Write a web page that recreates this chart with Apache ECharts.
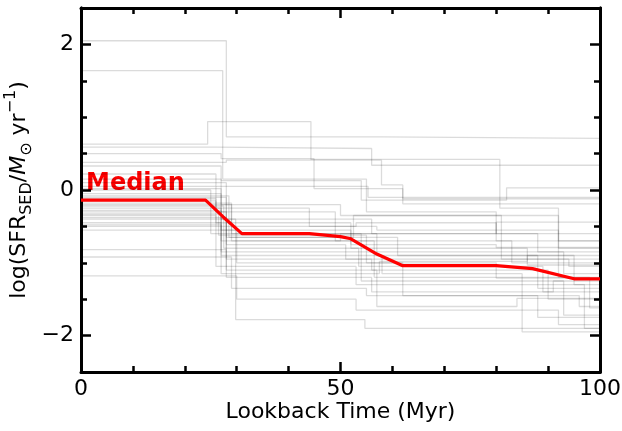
<!DOCTYPE html>
<html><head><meta charset="utf-8">
<script src="https://cdn.jsdelivr.net/npm/echarts@6/dist/echarts.min.js"></script>
<style>html,body{margin:0;padding:0;background:#fff}#c{width:622px;height:431px}</style>
</head><body><div id="c"></div>
<script>
// Median SFH
const medianX = [0, 24, 27.4, 31, 44, 50, 52, 57, 62, 80, 87, 95, 100];
const medianY = [-0.14, -0.14, -0.37, -0.6, -0.6, -0.64, -0.67, -0.88, -1.04, -1.04, -1.08, -1.22, -1.22];

// Individual step SFHs: breakpoints (x) and values
const sfhX = [
  [0, 28, 58, 100],
  [0, 27.3, 55, 80, 100],
  [0, 24.4, 44.3, 80.7, 92, 100],
  [0, 26, 56, 100],
  [0, 27, 44.9, 62, 100],
  [0, 28, 57.9, 62, 100],
  [0, 27, 54, 82, 100],
  [0, 26, 55.3, 100],
  [0, 27, 50, 92, 100],
  [0, 28, 53, 80, 100],
  [0, 26, 52, 86, 100],
  [0, 25, 57, 95, 100],
  [0, 27, 50, 88, 100],
  [0, 28, 56, 90, 100],
  [0, 26, 49, 83, 100],
  [0, 29, 54, 93, 100],
  [0, 27, 55, 80, 100],
  [0, 28, 61, 88, 100],
  [0, 26, 53, 97, 100],
  [0, 29.8, 54.7, 100],
  [0, 27, 58, 85, 100],
  [0, 28, 56, 91, 100],
  [0, 30, 62, 96, 100],
  [0, 28, 57, 84, 100],
  [0, 29, 55, 88, 100],
  [0, 30, 53, 92, 100],
  [0, 27, 52, 80, 100],
  [0, 28, 51, 94, 100],
  [0, 26, 44, 57, 92, 100],
  [0, 27, 56, 80, 100],
  [0, 27.5, 53.5, 89, 100],
  [0, 26.5, 55, 93, 100],
  [0, 28.5, 52.5, 81, 100],
  [0, 27, 57.5, 86, 100],
  [0, 29, 56.5, 98, 100]
];
const sfhY = [
  [2.05, 0.73, 0.71, 0.71],
  [1.64, 0.15, -0.3, -0.6, -0.6],
  [0.63, 0.94, 0.42, -0.25, -0.7, -0.7],
  [0.59, 0.57, 0.34, 0.34],
  [0.5, 0.43, 0.02, -0.19, -0.19],
  [0.38, 0.41, 0.07, -0.12, -0.12],
  [0.33, 0.13, -0.14, 0.03, 0.03],
  [0.22, 0.05, -0.1, -0.1],
  [0.15, -0.2, -0.35, -0.8, -0.8],
  [0.1, -0.5, -0.45, -0.7, -0.7],
  [0.05, -0.45, -0.8, -1.03, -1.03],
  [0.0, -0.6, -0.9, -1.3, -1.3],
  [-0.05, -0.7, -0.6, -0.85, -0.85],
  [-0.1, -0.95, -1.1, -1.5, -1.5],
  [-0.15, -0.3, -0.7, -1.0, -1.0],
  [-0.2, -0.6, -1.25, -1.72, -1.72],
  [-0.25, -0.85, -1.0, -1.21, -1.21],
  [-0.3, -0.65, -0.9, -1.35, -1.35],
  [-0.35, -1.05, -1.3, -1.9, -1.9],
  [-0.4, -1.78, -1.9, -1.9],
  [-0.45, -0.9, -1.15, -1.95, -1.95],
  [-0.5, -1.2, -1.4, -1.25, -1.25],
  [-0.55, -1.0, -1.45, -1.6, -1.6],
  [-0.82, -1.1, -1.6, -1.49, -1.49],
  [-0.92, -1.35, -1.45, -1.75, -1.75],
  [-1.18, -1.5, -1.65, -1.85, -1.85],
  [-0.28, -0.55, -0.75, -0.79, -0.79],
  [-0.38, -0.75, -0.95, -1.05, -1.05],
  [-0.12, -0.25, -0.5, -0.55, -1.2, -1.2],
  [0.02, -0.4, -0.6, -0.44, -0.44],
  [-0.22, -0.8, -1.05, -1.4, -1.4],
  [-0.33, -0.62, -0.85, -1.15, -1.15],
  [-0.08, -0.65, -0.35, -0.95, -0.95],
  [-0.48, -1.15, -0.98, -0.9, -0.9],
  [-0.18, -0.7, -1.2, -1.62, -1.62]
];

const xTicks = [0, 50, 100];
const yMajorTicks = [-2, 0, 2];
const yMinorTicks = [-2.5, -1.5, -1, -0.5, 0.5, 1, 1.5, 2.5];
const medianLabel = 'Median';

const FONT = 'DejaVu Sans';
const FS = 22;
const chart = echarts.init(document.getElementById('c'), null, {renderer: 'canvas'});

const series = sfhX.map((xs, i) => ({
  type: 'line', step: 'end', symbol: 'none', silent: true,
  xAxisIndex: 0, yAxisIndex: 0,
  data: xs.map((x, j) => [x, sfhY[i][j]]),
  lineStyle: {color: '#000', width: 1.3, opacity: 0.14},
  z: 2
}));
series.push({
  type: 'line', symbol: 'none', silent: true,
  xAxisIndex: 0, yAxisIndex: 0,
  data: medianX.map((x, j) => [x, medianY[j]]),
  lineStyle: {color: '#ff0000', width: 3.2},
  z: 5
});

const minus = v => String(v).replace('-', '\u2212');
const lineStyle = {color: '#000', width: 3};
const tickStyle = {color: '#000', width: 2.5};

function yAx(pos, ticks, len, labels, extra) {
  return Object.assign({
    type: 'value', min: -2.5, max: 2.5, position: pos,
    axisLine: {show: true, onZero: false, lineStyle: lineStyle},
    axisTick: {show: true, inside: true, length: len, customValues: ticks, lineStyle: tickStyle},
    axisLabel: labels ? {show: true, customValues: ticks, color: '#000', fontFamily: FONT, fontSize: FS, margin: 7, formatter: v => minus(v)} : {show: false},
    splitLine: {show: false}
  }, extra || {});
}

chart.setOption({
  animation: false,
  backgroundColor: '#fff',
  grid: {left: 81, right: 22, top: 8, bottom: 59, containLabel: false, outerBoundsMode: 'none'},
  xAxis: [0, 1].map(k => ({
    type: 'value', min: 0, max: 100, interval: 50, position: k === 0 ? 'bottom' : 'top',
    axisLine: {show: true, onZero: false, lineStyle: lineStyle},
    axisTick: {show: true, inside: true, length: 10, lineStyle: tickStyle},
    minorTick: {show: true, splitNumber: 5, length: 6, lineStyle: tickStyle},
    splitLine: {show: false},
    axisLabel: k === 0 ? {color: '#000', fontFamily: FONT, fontSize: FS, margin: 6,
      formatter: v => xTicks.includes(v) ? minus(v) : ''} : {show: false},
    name: k === 0 ? 'Lookback Time (Myr)' : '', nameLocation: 'middle', nameGap: 29,
    nameMoveOverlap: false,
    nameTextStyle: {color: '#000', fontFamily: FONT, fontSize: FS}
  })),
  yAxis: [
    yAx('left', yMajorTicks, 10, true, {
      name: '{n|log(SFR}{sub|SED}{n|/}{it|M}{sub|\u2299}{n| yr}{sup|\u22121}{n|)}',
      nameLocation: 'middle', nameGap: 46, nameRotate: 90, nameMoveOverlap: false,
      nameTextStyle: {
        color: '#000', fontFamily: FONT, fontSize: FS,
        rich: {
          n: {fontFamily: FONT, fontSize: FS, color: '#000', lineHeight: 32},
          it: {fontFamily: FONT, fontSize: FS, fontStyle: 'italic', color: '#000', lineHeight: 32},
          sub: {fontFamily: FONT, fontSize: 16, color: '#000', lineHeight: 32, verticalAlign: 'bottom'},
          sup: {fontFamily: FONT, fontSize: 16, color: '#000', lineHeight: 32, verticalAlign: 'top'}
        }
      }
    }),
    yAx('left', yMinorTicks, 6, false),
    yAx('right', yMajorTicks, 10, false),
    yAx('right', yMinorTicks, 6, false)
  ],
  series: series
});

const p = chart.convertToPixel({xAxisIndex: 0, yAxisIndex: 0}, [0, medianY[0]]);
chart.setOption({
  graphic: [{
    type: 'text', x: p[0] + 5, y: p[1] - 4, silent: true,
    style: {text: medianLabel, fill: '#ff0000', font: 'bold 24px "DejaVu Sans"', verticalAlign: 'bottom'}
  }]
});
</script></body></html>
